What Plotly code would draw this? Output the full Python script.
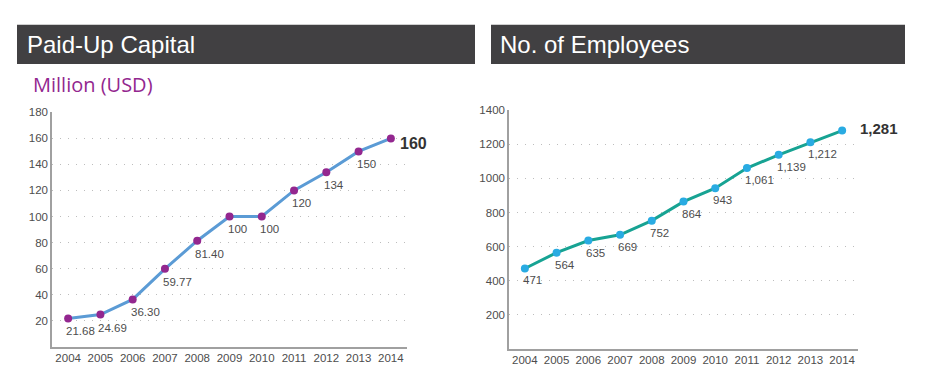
import plotly.graph_objects as go

# ---- data ----
years = [2004, 2005, 2006, 2007, 2008, 2009, 2010, 2011, 2012, 2013, 2014]
capital = [21.68, 24.69, 36.30, 59.77, 81.40, 100, 100, 120, 134, 150, 160]
capital_labels = ["21.68", "24.69", "36.30", "59.77", "81.40", "100", "100", "120", "134", "150", "160"]
employees = [471, 564, 635, 669, 752, 864, 943, 1061, 1139, 1212, 1281]
employee_labels = ["471", "564", "635", "669", "752", "864", "943", "1,061", "1,139", "1,212", "1,281"]
capital_ticks = [20, 40, 60, 80, 100, 120, 140, 160, 180]
employee_ticks = [200, 400, 600, 800, 1000, 1200, 1400]
titles = ["Paid-Up Capital", "No. of Employees"]
unit_label = "Million (USD)"

W, H = 925, 390
def px(x):
    return x / W
def py(y):
    return 1 - y / H

FONT = "Liberation Sans, Arial, Helvetica, sans-serif"
TXT = "#4d4d4d"

fig = go.Figure()

fig.add_trace(go.Scatter(
    x=years, y=capital, mode="lines+markers",
    line=dict(color="#5b9bd5", width=3),
    marker=dict(color="#93278f", size=8),
    xaxis="x", yaxis="y", showlegend=False, hoverinfo="x+y"))

fig.add_trace(go.Scatter(
    x=years, y=employees, mode="lines+markers",
    line=dict(color="#17a393", width=3),
    marker=dict(color="#29abe2", size=8),
    xaxis="x2", yaxis="y2", showlegend=False, hoverinfo="x+y"))

annotations = []
n = len(years)
for i, (xv, yv, lab) in enumerate(zip(years, capital, capital_labels)):
    if i == n - 1:
        annotations.append(dict(x=xv, y=yv, xref="x", yref="y", text="<b>" + lab + "</b>",
                                showarrow=False, xanchor="left", yanchor="middle",
                                xshift=7, yshift=-5,
                                font=dict(family=FONT, size=16, color="#333333")))
    else:
        annotations.append(dict(x=xv, y=yv, xref="x", yref="y", text=lab,
                                showarrow=False, xanchor="left", yanchor="top",
                                xshift=-4, yshift=-5,
                                font=dict(family=FONT, size=11.5, color=TXT)))
for i, (xv, yv, lab) in enumerate(zip(years, employees, employee_labels)):
    if i == n - 1:
        annotations.append(dict(x=xv, y=yv, xref="x2", yref="y2", text="<b>" + lab + "</b>",
                                showarrow=False, xanchor="left", yanchor="middle",
                                xshift=16, yshift=2,
                                font=dict(family=FONT, size=15, color="#333333")))
    else:
        annotations.append(dict(x=xv, y=yv, xref="x2", yref="y2", text=lab,
                                showarrow=False, xanchor="left", yanchor="top",
                                xshift=-4, yshift=-4,
                                font=dict(family=FONT, size=11.5, color=TXT)))

# title bar texts
annotations.append(dict(x=px(25), y=py(39), xref="paper", yref="paper", text=titles[0],
                        showarrow=False, xanchor="left", yanchor="middle",
                        font=dict(family=FONT, size=24, color="white")))
annotations.append(dict(x=px(498), y=py(39), xref="paper", yref="paper", text=titles[1],
                        showarrow=False, xanchor="left", yanchor="middle",
                        font=dict(family=FONT, size=24, color="white")))
annotations.append(dict(x=px(31), y=py(80), xref="paper", yref="paper", text=unit_label,
                        showarrow=False, xanchor="left", yanchor="middle",
                        font=dict(family="Open Sans, Lato, sans-serif", size=20, color="#93278f")))

shapes = [
    dict(type="rect", xref="paper", yref="paper", x0=px(17), x1=px(475), y0=py(59), y1=py(19),
         fillcolor="#414042", line=dict(width=0), layer="below"),
    dict(type="rect", xref="paper", yref="paper", x0=px(491), x1=px(905), y0=py(59), y1=py(19),
         fillcolor="#414042", line=dict(width=0), layer="below"),
]

xcommon = dict(range=[2003.5, 2014.5], tickmode="array", tickvals=years,
               ticktext=[str(y) for y in years], showgrid=False, zeroline=False,
               showline=True, linecolor="#a0a0a0", linewidth=1.5, ticks="",
               tickfont=dict(family=FONT, size=11.5, color=TXT), fixedrange=True)
ycommon = dict(showgrid=True, gridcolor="#bdbdbd", gridwidth=1.3, griddash="1px,7px",
               zeroline=False, showline=True, linecolor="#a0a0a0", linewidth=1.5, ticks="",
               tickfont=dict(family=FONT, size=11.5, color=TXT), fixedrange=True)

fig.update_layout(
    width=W, height=H, margin=dict(l=0, r=0, t=0, b=0),
    paper_bgcolor="white", plot_bgcolor="white",
    xaxis=dict(domain=[px(52), px(407)], anchor="y", **xcommon),
    yaxis=dict(domain=[py(346), py(108)], anchor="x", range=[0, 180],
               tickvals=capital_ticks, **ycommon),
    xaxis2=dict(domain=[px(509), px(858)], anchor="y2", **xcommon),
    yaxis2=dict(domain=[py(348), py(106)], anchor="x2", range=[0, 1400],
                tickvals=employee_ticks, **ycommon),
    annotations=annotations, shapes=shapes,
)

fig.write_html("out.html", config={"displayModeBar": False},
               post_script="document.body.style.margin='0';document.body.style.overflow='hidden';")
